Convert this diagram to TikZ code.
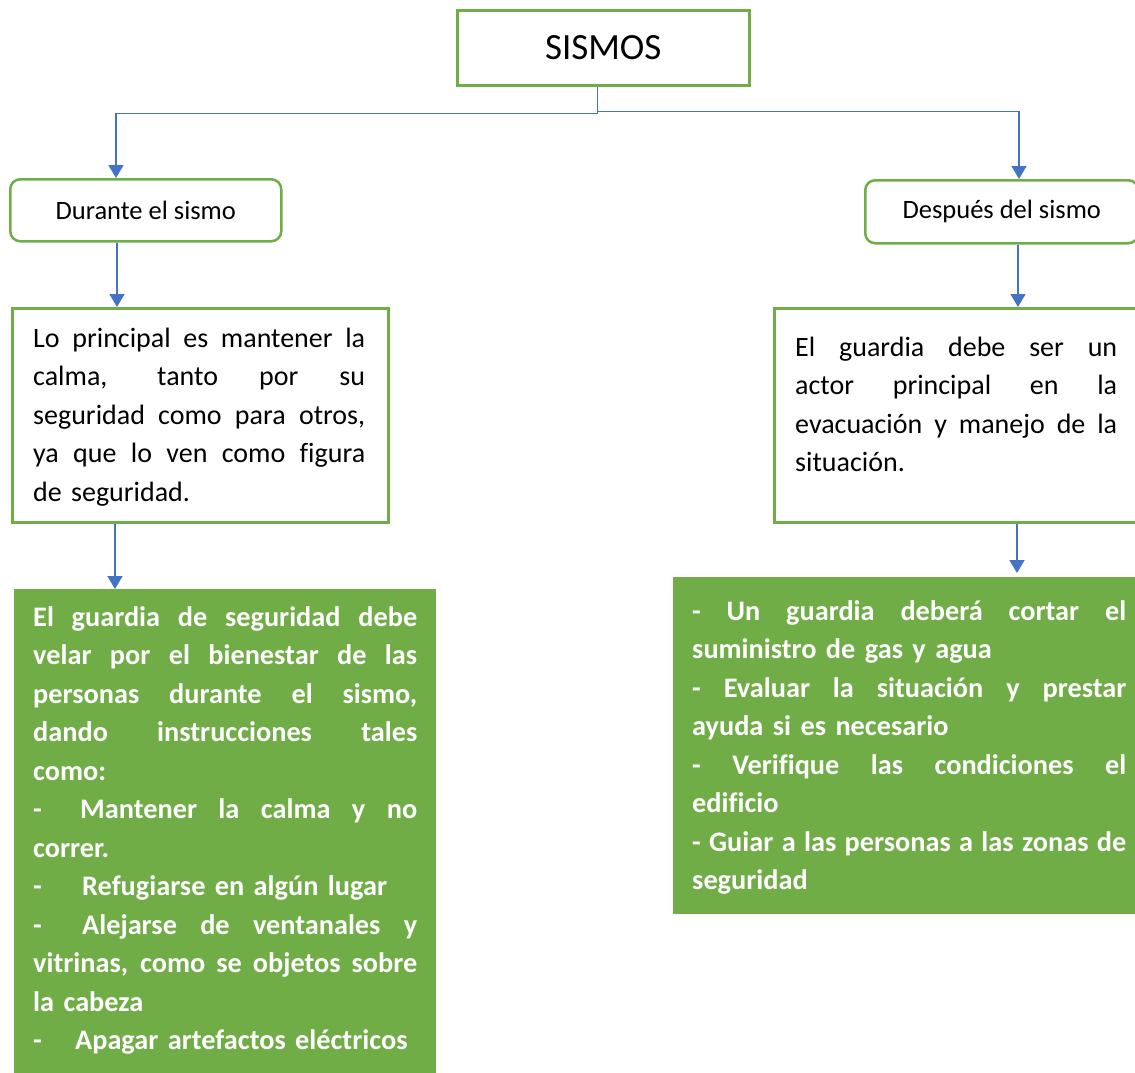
\documentclass[tikz,border=0pt]{standalone}
\usepackage{fontspec}
\setmainfont[Ligatures=CommonOff]{Carlito}
\usetikzlibrary{arrows.meta}
\definecolor{ogreen}{HTML}{70AD47}
\definecolor{oblue}{HTML}{4472C4}
\setlength{\parindent}{0pt}
\newcommand{\jw}{300pt}
\newcommand{\jline}[1]{\hbox to \jw{\spaceskip=0.226em plus 1fil\relax #1}}
\newcommand{\dashto}[1]{\makebox[#1][l]{-}}
\newcommand{\topstrut}{\rule{0pt}{30pt}}
\begin{document}
\begin{tikzpicture}[x=1pt,y=-1pt,
  box/.style={draw=ogreen, line width=2.5pt, fill=white, inner sep=0pt, anchor=north west},
  gbox/.style={fill=ogreen, draw=none, inner sep=0pt, anchor=north west},
  body/.style={inner sep=0pt, anchor=north west, font=\fontsize{28}{38.5}\selectfont},
  wbody/.style={body, text=white, font=\fontsize{28.3}{38.5}\selectfont\bfseries},
  conn/.style={draw=oblue, line width=1.5pt},
  arr/.style={conn, -{Triangle[width=15pt,length=13pt]}}
]
\useasboundingbox (0,0) rectangle (1135,1072);
\clip (0,0) rectangle (1135,1072);
\fill[white] (0,0) rectangle (1135,1072);

% boxes
\node[box, minimum width=292pt, minimum height=75pt, font=\fontsize{37}{44}\selectfont] (sismos) at (456,9) {SISMOS};
\node[box, rounded corners=10pt, minimum width=271pt, minimum height=62pt, font=\fontsize{26.5}{30}\selectfont] (durante) at (9,178) {Durante el sismo};
\node[box, rounded corners=10pt, minimum width=273pt, minimum height=63pt, font=\fontsize{26.5}{30}\selectfont] (despues) at (864,179) {Después del sismo};
\node[box, minimum width=376pt, minimum height=214pt] (lo) at (11,307) {};
\node[box, minimum width=366pt, minimum height=214pt] (el) at (773,307) {};
\node[gbox, minimum width=422pt, minimum height=500pt] (lgreen) at (14,589) {};
\node[gbox, minimum width=470pt, minimum height=337pt] (rgreen) at (673,577) {};

% texts
\node[body, text width=332pt] (lotext) at (33,317) {\renewcommand{\jw}{332pt}%
\topstrut\jline{Lo principal es mantener la}\par
\jline{calma, tanto por su}\par
\jline{seguridad como para otros,}\par
\jline{ya que lo ven como figura}\par
de seguridad.};

\node[body, text width=322pt] (eltext) at (795,326) {\renewcommand{\jw}{322pt}%
\topstrut\jline{El guardia debe ser un}\par
\jline{actor principal en la}\par
\jline{evacuación y manejo de la}\par
situación.};

\node[wbody, text width=384pt] (lgtext) at (33,596) {\renewcommand{\jw}{384pt}%
\topstrut\jline{El guardia de seguridad debe}\par
\jline{velar por el bienestar de las}\par
\jline{personas durante el sismo,}\par
\jline{dando instrucciones tales}\par
como:\par
\jline{\dashto{47pt}Mantener la calma y no}\par
correr.\par
\dashto{49pt}Refugiarse en algún lugar\par
\jline{\dashto{49pt}Alejarse de ventanales y}\par
\jline{vitrinas, como se objetos sobre}\par
la cabeza\par
\dashto{42pt}Apagar artefactos eléctricos};

\node[wbody, text width=434pt] (rgtext) at (692,590) {\renewcommand{\jw}{434pt}%
\topstrut\jline{- Un guardia deberá cortar el}\par
suministro de gas y agua\par
\jline{- Evaluar la situación y prestar}\par
ayuda si es necesario\par
\jline{- Verifique las condiciones el}\par
edificio\par
\jline{- Guiar a las personas a las zonas de}\par
seguridad};

% connectors
\coordinate (jl) at ([xshift=-6pt,yshift=-27pt]sismos.south);
\coordinate (jr) at ([xshift=-6pt,yshift=-25pt]sismos.south);
\draw[conn] ([xshift=-6pt]sismos.south) -- (jl);
\draw[arr] (jl) -| ([xshift=107pt]durante.north west);
\draw[arr] (jr) -| ([xshift=155pt]despues.north west);
\draw[arr] ([xshift=108pt]durante.south west) -- ([xshift=106pt]lo.north west);
\draw[arr] ([xshift=104pt]lo.south west) -- ([xshift=101pt]lgreen.north west);
\draw[arr] ([xshift=154pt]despues.south west) -- ([xshift=245pt]el.north west);
\draw[arr] ([xshift=244pt]el.south west) -- ([xshift=344pt,yshift=4pt]rgreen.north west);
\end{tikzpicture}
\end{document}
